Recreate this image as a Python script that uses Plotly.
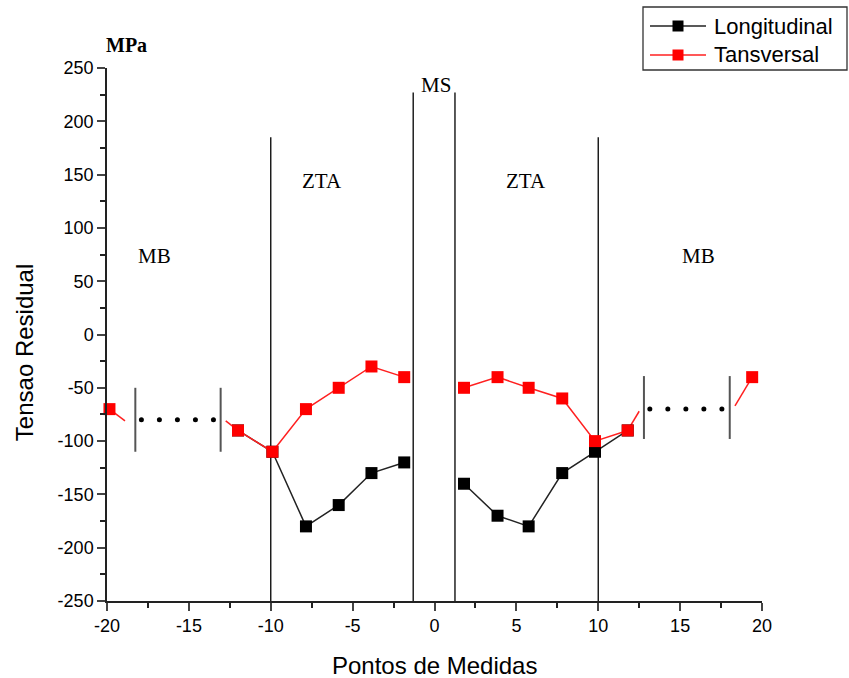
import plotly.graph_objects as go

# ---- data ----
long_x = [-12, -9.9, -7.85, -5.85, -3.85, -1.85, None, 1.8, 3.85, 5.75, 7.8, 9.8, 11.8]
long_y = [-90, -110, -180, -160, -130, -120, None, -140, -170, -180, -130, -110, -90]

trans_x = [-19.85, None, -12, -9.9, -7.85, -5.85, -3.85, -1.85, None, 1.8, 3.85, 5.75, 7.8, 9.8, 11.8, None, 19.4]
trans_y = [-70, None, -90, -110, -70, -50, -30, -40, None, -50, -40, -50, -60, -100, -90, None, -40]

# short broken stubs of the transversal line beside the dotted gaps
stub_x = [-19.85, -18.9, None, -12.75, -12, None, 11.8, 12.5, None, 18.35, 19.4]
stub_y = [-70, -81, None, -81, -90, None, -90, -72, None, -67, -40]

dot_x = [-17.9, -16.8, -15.7, -14.6, -13.5, 13.15, 14.25, 15.35, 16.45, 17.55]
dot_y = [-80, -80, -80, -80, -80, -70, -70, -70, -70, -70]

bar_x = [-18.27, -13.06, 12.79, 18.03]
bar_lo = [-110, -110, -98, -98]
bar_hi = [-50, -50, -39, -39]

zone_x = [-10, -1.3, 1.25, 10]
zone_top = [185, 227, 227, 185]

label_text = ["MB", "ZTA", "MS", "ZTA", "MB"]
label_x = [-17.1, -6.9, 0.1, 5.6, 16.1]
label_y = [74, 144, 234, 144, 74]

x_ticks = [-20, -15, -10, -5, 0, 5, 10, 15, 20]
y_ticks = [-250, -200, -150, -100, -50, 0, 50, 100, 150, 200, 250]

series_names = ["Longitudinal", "Tansversal"]
series_colors = ["black", "#ff0000"]
line_colors = ["#222", "#ff2020"]

SANS = "Liberation Sans, Arial, sans-serif"
SERIF = "Liberation Serif, Times New Roman, serif"

def segs(xs, lo, hi):
    px, py = [], []
    for x, a, b in zip(xs, lo, hi):
        px += [x, x, None]
        py += [a, b, None]
    return px, py

fig = go.Figure()

# zone boundaries
zx, zy = segs(zone_x, [-250] * len(zone_x), zone_top)
fig.add_trace(go.Scatter(x=zx, y=zy, mode="lines", line=dict(color="#111", width=1.4),
                         showlegend=False, hoverinfo="skip", cliponaxis=False))
# gray bars
bx, by = segs(bar_x, bar_lo, bar_hi)
fig.add_trace(go.Scatter(x=bx, y=by, mode="lines", line=dict(color="#555", width=2),
                         showlegend=False, hoverinfo="skip"))
# dots
fig.add_trace(go.Scatter(x=dot_x, y=dot_y, mode="markers", marker=dict(color="black", size=5),
                         showlegend=False, hoverinfo="skip"))
# stubs
fig.add_trace(go.Scatter(x=stub_x, y=stub_y, mode="lines", line=dict(color=line_colors[1], width=1.5),
                         showlegend=False, hoverinfo="skip", cliponaxis=False))

for xs, ys, nm, c, lc in zip([long_x, trans_x], [long_y, trans_y], series_names, series_colors, line_colors):
    fig.add_trace(go.Scatter(x=xs, y=ys, mode="lines+markers", name=nm,
                             line=dict(color=lc, width=1.5),
                             marker=dict(symbol="square", size=12, color=c),
                             cliponaxis=False, showlegend=False))

for t, x, y in zip(label_text, label_x, label_y):
    fig.add_annotation(x=x, y=y, text=t, showarrow=False,
                       font=dict(family=SERIF, size=21, color="black"))

fig.add_annotation(xref="paper", yref="paper", x=-0.005, y=1.0, yshift=23, text="<b>MPa</b>",
                   showarrow=False, xanchor="left", yanchor="middle",
                   font=dict(family=SERIF, size=20, color="black"))

# axis titles
fig.add_annotation(xref="paper", yref="paper", x=0.5, y=0, yshift=-64, text="Pontos de Medidas",
                   showarrow=False, xanchor="center", yanchor="middle",
                   font=dict(family=SANS, size=24, color="black"))
fig.add_annotation(xref="paper", yref="paper", x=0, xshift=-83, y=0.465, text="Tensao Residual",
                   showarrow=False, xanchor="center", yanchor="middle", textangle=-90,
                   font=dict(family=SANS, size=24, color="black"))

# legend (custom box, pixel-placed in paper coords)
W, H = 655.0, 533.0
def px2x(p): return (p - 107) / W
def py2y(p): return (601 - p) / H
fig.add_shape(type="rect", xref="paper", yref="paper", x0=px2x(643), x1=px2x(847),
              y0=py2y(70), y1=py2y(7), line=dict(color="#333", width=1.3), fillcolor="white")
for i, (nm, c, lc) in enumerate(zip(series_names, series_colors, line_colors)):
    cy = 26 + i * 29
    fig.add_shape(type="line", xref="paper", yref="paper", x0=px2x(650), x1=px2x(706),
                  y0=py2y(cy), y1=py2y(cy), line=dict(color=lc, width=1.5))
    fig.add_shape(type="rect", xref="paper", yref="paper", x0=px2x(672.5), x1=px2x(683.5),
                  y0=py2y(cy + 5.5), y1=py2y(cy - 5.5), line=dict(width=0), fillcolor=c)
    fig.add_annotation(xref="paper", yref="paper", x=px2x(712), y=py2y(cy), text=nm,
                       showarrow=False, xanchor="left", yanchor="middle",
                       font=dict(family=SANS, size=22, color="black"))

fig.update_xaxes(range=[-20, 20], tickvals=x_ticks, ticktext=[str(v) for v in x_ticks],
                 ticks="outside", ticklen=8, tickwidth=1.5,
                 showline=True, linecolor="#222", linewidth=1.5, showgrid=False, zeroline=False,
                 tickfont=dict(family=SANS, size=18, color="black"),
                 minor=dict(dtick=2.5, ticks="outside", ticklen=5, tickwidth=1.5, tickcolor="#222"))
fig.update_yaxes(range=[-250, 250], tickvals=y_ticks, ticktext=[str(v) for v in y_ticks],
                 ticks="outside", ticklen=8, tickwidth=1.5,
                 showline=True, linecolor="#222", linewidth=1.5, showgrid=False, zeroline=False,
                 tickfont=dict(family=SANS, size=18, color="black"),
                 minor=dict(dtick=25, ticks="outside", ticklen=5, tickwidth=1.5, tickcolor="#222"))

fig.update_layout(
    width=849, height=678,
    margin=dict(l=107, r=87, t=68, b=77, autoexpand=False),
    plot_bgcolor="white", paper_bgcolor="white",
    showlegend=False,
)

fig.write_html("out.html")
